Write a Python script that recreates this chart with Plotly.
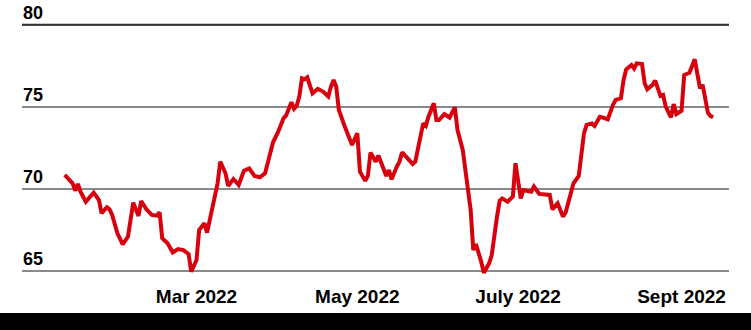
import plotly.graph_objects as go

dates = [
    "2022-01-10", "2022-01-12", "2022-01-13", "2022-01-14", "2022-01-15", "2022-01-16",
    "2022-01-18", "2022-01-21", "2022-01-23", "2022-01-24", "2022-01-26", "2022-01-27",
    "2022-01-28", "2022-01-30", "2022-02-01", "2022-02-03", "2022-02-04", "2022-02-05",
    "2022-02-07", "2022-02-08", "2022-02-10", "2022-02-12", "2022-02-14", "2022-02-15",
    "2022-02-16", "2022-02-18", "2022-02-20", "2022-02-22", "2022-02-24", "2022-02-26",
    "2022-02-27", "2022-03-01", "2022-03-02", "2022-03-04", "2022-03-05", "2022-03-07",
    "2022-03-09", "2022-03-10", "2022-03-12", "2022-03-13", "2022-03-15", "2022-03-17",
    "2022-03-19", "2022-03-21", "2022-03-23", "2022-03-25", "2022-03-27", "2022-03-28",
    "2022-03-30", "2022-04-01", "2022-04-03", "2022-04-04", "2022-04-06", "2022-04-07",
    "2022-04-08", "2022-04-09", "2022-04-10", "2022-04-11", "2022-04-12", "2022-04-14",
    "2022-04-16", "2022-04-18", "2022-04-20", "2022-04-21", "2022-04-22", "2022-04-23",
    "2022-04-24", "2022-04-26", "2022-04-28", "2022-04-29", "2022-05-01", "2022-05-02",
    "2022-05-04", "2022-05-05", "2022-05-06", "2022-05-08", "2022-05-09", "2022-05-10",
    "2022-05-12", "2022-05-13", "2022-05-14", "2022-05-16", "2022-05-17", "2022-05-18",
    "2022-05-20", "2022-05-22", "2022-05-23", "2022-05-24", "2022-05-26", "2022-05-27",
    "2022-05-28", "2022-05-30", "2022-05-31", "2022-06-01", "2022-06-03", "2022-06-05",
    "2022-06-07", "2022-06-08", "2022-06-10", "2022-06-11", "2022-06-13", "2022-06-14",
    "2022-06-15", "2022-06-17", "2022-06-18", "2022-06-20", "2022-06-21", "2022-06-23",
    "2022-06-24", "2022-06-25", "2022-06-27", "2022-06-29", "2022-06-30", "2022-07-02",
    "2022-07-03", "2022-07-06", "2022-07-07", "2022-07-09", "2022-07-11", "2022-07-13",
    "2022-07-14", "2022-07-16", "2022-07-18", "2022-07-19", "2022-07-21", "2022-07-22",
    "2022-07-24", "2022-07-26", "2022-07-27", "2022-07-29", "2022-07-30", "2022-08-01",
    "2022-08-02", "2022-08-04", "2022-08-06", "2022-08-07", "2022-08-09", "2022-08-10",
    "2022-08-11", "2022-08-13", "2022-08-14", "2022-08-15", "2022-08-17", "2022-08-18",
    "2022-08-19", "2022-08-21", "2022-08-22", "2022-08-24", "2022-08-25", "2022-08-26",
    "2022-08-28", "2022-08-29", "2022-08-30", "2022-09-01", "2022-09-02", "2022-09-04",
    "2022-09-06", "2022-09-08", "2022-09-09", "2022-09-11", "2022-09-12", "2022-09-13",
]

values = [
    70.85, 70.54, 70.34, 69.89, 70.30, 69.83,
    69.22, 69.77, 69.32, 68.51, 68.88, 68.75,
    68.41, 67.29, 66.62, 67.09, 68.00, 69.16,
    68.35, 69.26, 68.75, 68.41, 68.37, 68.57,
    66.99, 66.68, 66.13, 66.33, 66.27, 66.03,
    64.95, 65.66, 67.49, 67.90, 67.33, 68.71,
    70.34, 71.66, 70.95, 70.18, 70.60, 70.24,
    71.11, 71.25, 70.79, 70.71, 70.95, 71.56,
    72.83, 73.49, 74.30, 74.48, 75.28, 74.88,
    75.06, 75.63, 76.74, 76.68, 76.80, 75.83,
    76.10, 75.93, 75.63, 76.24, 76.64, 76.24,
    74.81, 73.90, 72.98, 72.68, 73.39, 71.05,
    70.50, 70.79, 72.21, 71.66, 72.03, 71.56,
    70.79, 71.15, 70.58, 71.36, 71.66, 72.23,
    71.86, 71.52, 71.66, 72.37, 73.99, 73.84,
    74.40, 75.22, 74.20, 74.20, 74.56, 74.35,
    74.97, 73.59, 72.37, 71.15, 68.71, 66.27,
    66.64, 65.56, 64.89, 65.46, 65.97, 68.31,
    69.27, 69.42, 69.22, 69.53, 71.56, 69.42,
    69.93, 69.83, 70.14, 69.69, 69.63, 69.63,
    68.75, 69.12, 68.31, 68.55, 69.73, 70.34,
    70.79, 73.39, 73.90, 73.99, 73.84, 74.40,
    74.36, 74.24, 75.12, 75.42, 75.52, 76.64,
    77.28, 77.55, 77.34, 77.65, 77.61, 76.44,
    76.07, 76.34, 76.60, 75.67, 75.73, 75.02,
    74.36, 75.17, 74.56, 74.76, 76.94, 77.08,
    77.90, 76.13, 76.34, 74.64, 74.44, 74.37,
]

x_tick_vals = ["2022-03-01", "2022-05-01", "2022-07-01", "2022-09-01"]
x_tick_text = ["Mar 2022", "May 2022", "July 2022", "Sept 2022"]
y_tick_vals = [65, 70, 75, 80]
y_tick_text = ["65", "70", "75", "80"]

fig = go.Figure()
fig.add_trace(go.Scatter(
    x=dates, y=values, mode="lines",
    line=dict(color="#d9000d", width=4, shape="linear"),
    hoverinfo="skip", showlegend=False,
))

# dark top line at 80
fig.add_shape(type="line", xref="paper", yref="y", x0=0, x1=1, y0=80, y1=80,
              line=dict(color="#333333", width=2), layer="above")
# black footer band
fig.add_shape(type="rect", xref="paper", yref="paper", x0=-0.1, x1=1.1,
              y0=-0.2, y1=-0.0996, fillcolor="black", line=dict(width=0), layer="above")

# y-axis labels sit above their gridlines, flush left
for v, t in zip(y_tick_vals, y_tick_text):
    fig.add_annotation(
        x=0, xref="paper", y=v, yref="y", text=t, showarrow=False,
        xanchor="left", yanchor="bottom", xshift=-1, yshift=0,
        font=dict(size=18, family="Liberation Sans", weight="bold", color="#000000"),
    )

fig.update_layout(
    width=751, height=330,
    margin=dict(l=22, r=22, t=4, b=45),
    paper_bgcolor="white", plot_bgcolor="white",
    font=dict(family="Liberation Sans", color="black"),
    xaxis=dict(
        type="date",
        range=["2021-12-24 19:12", "2022-09-19 00:00"],
        tickvals=x_tick_vals, ticktext=x_tick_text,
        tickfont=dict(size=19, family="Liberation Sans", weight="bold", color="#000000"),
        ticklabelstandoff=-2,
        showgrid=False, zeroline=False, showline=False, ticks="",
        fixedrange=True,
    ),
    yaxis=dict(
        range=[64.14, 81.27],
        tickvals=y_tick_vals,
        showticklabels=False,
        showgrid=True, gridcolor="#8a8a8a", gridwidth=1.5,
        zeroline=False, showline=False, ticks="",
        fixedrange=True,
    ),
)

fig.write_html("out.html")
